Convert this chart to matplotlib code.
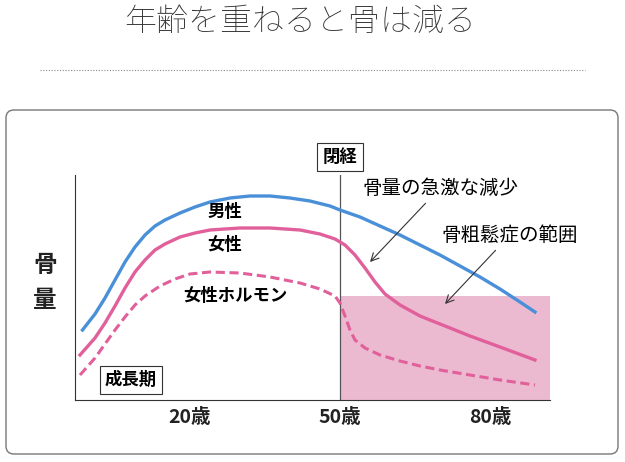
import matplotlib.pyplot as plt
from matplotlib.patches import FancyBboxPatch, Rectangle

plt.rcParams['font.family'] = 'Noto Sans CJK JP'

# age (years) and bone mass (arbitrary units, 0 = x axis)
male_age = [-1.5, 1, 3, 5, 7, 9, 11, 13, 15, 18, 21, 24, 28, 32, 36, 40, 44, 48, 50, 54, 58, 62, 66, 70, 74, 78, 82, 86, 89]
male_val = [70, 86, 102, 120, 138, 153, 165, 174, 180, 187, 193, 198, 202, 204, 204, 202, 199, 194, 190, 183, 174, 165, 155, 145, 134, 123, 111, 98, 88]
female_age = [-2, 1, 3, 5, 7, 9, 11, 13, 15, 18, 21, 24, 30, 36, 42, 46, 49, 51, 53, 55, 57, 59, 62, 66, 70, 76, 82, 89]
female_val = [45, 62, 77, 94, 112, 128, 140, 150, 156, 163, 167, 170, 172, 172, 170, 166, 161, 155, 145, 132, 118, 106, 95, 84, 76, 64, 53, 40]
hormone_age = [-2, 1, 3, 5, 7, 9, 11, 14, 17, 20, 24, 30, 36, 42, 46, 49, 50, 51, 52, 53, 55, 58, 62, 66, 70, 76, 82, 89]
hormone_val = [25, 42, 56, 70, 83, 95, 104, 114, 121, 126, 128, 127, 123, 117, 111, 104, 97, 84, 70, 60, 52, 45, 39, 34, 30, 25, 20, 15]
osteo_level = 104
menopause_age = 50
ticks = [20, 50, 80]
tick_labels = ['20歳', '50歳', '80歳']

fig = plt.figure(figsize=(6.25, 4.62), dpi=100)
bg = fig.add_axes([0, 0, 1, 1])
bg.set_xlim(0, 625)
bg.set_ylim(462, 0)
bg.axis('off')

bg.text(300, 22, '年齢を重ねると骨は減る', ha='center', va='center', fontsize=23,
        color='#333333', fontweight='light')
bg.plot([40, 585], [70, 70], ls=(0, (1, 1.5)), color='#888888', lw=0.8)
bg.add_patch(FancyBboxPatch((6, 110), 612, 344, boxstyle='round,pad=0,rounding_size=8',
                            fc='white', ec='#777777', lw=1))
bg.text(45, 265, '骨', ha='center', va='center', fontsize=17, fontweight='bold', color='#222222')
bg.text(45, 300, '量', ha='center', va='center', fontsize=17, fontweight='bold', color='#222222')

ax = fig.add_axes([75 / 625, 62 / 462, 475 / 625, 225 / 462])
ax.set_xlim(-3, 92)
ax.set_ylim(0, 225)
for s in ['top', 'right']:
    ax.spines[s].set_visible(False)
ax.spines['left'].set_color('#333333')
ax.spines['bottom'].set_color('#333333')
ax.set_yticks([])
ax.set_xticks(ticks)
ax.set_xticklabels(tick_labels, fontsize=14, fontweight='bold', color='#222222')
ax.tick_params(axis='x', length=0, pad=6)

ax.add_patch(Rectangle((menopause_age, 0), 92 - menopause_age, osteo_level,
                       fc='#ebbad0', ec='none', zorder=0))
ax.axvline(menopause_age, color='#555555', lw=0.9, zorder=1)

ax.plot(male_age, male_val, color='#4a90d9', lw=2.4)
ax.plot(female_age, female_val, color='#e1609b', lw=2.4)
ax.plot(hormone_age, hormone_val, color='#e1609b', lw=2.2, ls=(0, (3, 1.5)))

ax.text(27, 188, '男性', ha='center', va='center', fontsize=12.5, fontweight='bold')
ax.text(27, 155, '女性', ha='center', va='center', fontsize=12.5, fontweight='bold')
ax.text(29, 104, '女性ホルモン', ha='center', va='center', fontsize=12.5, fontweight='bold')
ax.text(3, 20, '成長期', ha='left', va='center', fontsize=12.5, fontweight='bold',
        bbox=dict(boxstyle='square,pad=0.3', fc='white', ec='#333333', lw=0.8))
ax.text(menopause_age, 243, '閉経', ha='center', va='center', fontsize=12.5, fontweight='bold',
        clip_on=False, bbox=dict(boxstyle='square,pad=0.3', fc='white', ec='#333333', lw=0.8))

ax.annotate('骨量の急激な減少', xy=(56, 138), xytext=(70, 212), fontsize=14,
            ha='center', va='center', annotation_clip=False,
            arrowprops=dict(arrowstyle='->', color='#333333', lw=0.8, shrinkB=0))
ax.annotate('骨粗鬆症の範囲', xy=(71, 96), xytext=(84, 165), fontsize=14,
            ha='center', va='center', annotation_clip=False,
            arrowprops=dict(arrowstyle='->', color='#333333', lw=0.8, shrinkB=0))

fig.savefig('out.png', dpi=100)
